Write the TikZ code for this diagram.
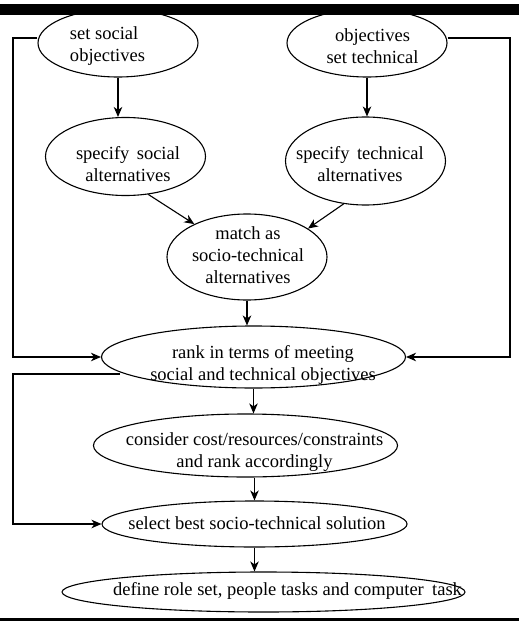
\documentclass[tikz,border=0pt]{standalone}
\usepackage{fontspec}
\setmainfont{Liberation Serif}
\usetikzlibrary{arrows.meta,shapes.geometric}
\begin{document}
\begin{tikzpicture}[x=1pt,y=-1pt,
  line width=1.1pt,
  oval/.style={draw,ellipse,inner sep=0pt,minimum width=2*#1},
  lbl/.style={inner sep=0pt,align=center,font=\fontsize{18.5}{22}\selectfont},
  arr/.style={-{Stealth[length=10pt,width=8.5pt,inset=3pt]}}]
\useasboundingbox (0,0) rectangle (519,628);
% process ellipses
\node[oval=80pt, minimum height=68pt] (e1) at (118,43) {};
\node[oval=80pt, minimum height=68pt] (e2) at (367,43) {};
\node[oval=80pt, minimum height=78pt] (e3) at (125.5,156.5) {};
\node[oval=80pt, minimum height=88pt] (e4) at (365.5,161) {};
\node[oval=80pt, minimum height=86pt] (e5) at (247,257) {};
\node[oval=152pt, minimum height=62pt] (e6) at (253.5,357) {};
\node[oval=152pt, minimum height=63pt] (e7) at (245.5,445.5) {};
\node[oval=152.5pt, minimum height=46pt] (e8) at (254.5,524) {};
\node[oval=201.5pt, minimum height=40pt] (e9) at (263.5,592) {};
% labels
\node[lbl,align=left] (t1) at (107.5,46) {set social\\objectives};
\node[lbl] (t2) at (372.5,46) {objectives\\set technical};
\node[lbl] (t3) at (128,164) {specify\hspace{0.15em} social\\alternatives};
\node[lbl] (t4) at (360,164) {specify\hspace{0.15em} technical\\alternatives};
\node[lbl] (t5) at (248,255) {match as\\socio-technical\\alternatives};
\node[lbl] (t6) at (263,365) {rank in terms of meeting\\social and technical objectives};
\node[lbl] (t7) at (254.5,452) {consider cost/resources/constraints\\and rank accordingly};
\node[lbl] (t8) at (257,523) {select best socio-technical solution};
\node[lbl] (t9) at (287.5,591) {define role set, people tasks and computer\hspace{0.2em} task};
% helper points for the feedback lines
\coordinate (lx) at (13,0);
\coordinate (rx) at (510,0);
\coordinate (r6) at (120,374);
% connectors
\draw[arr] (e1.south) -- (e1.south |- e3.north);
\draw[arr] (e2.south) -- (e2.south |- e4.north);
\draw[arr] (e3.-59) -- (e5.148);
\draw[arr] (e4.-117) -- (e5.25);
\draw[arr] (e5.south) -- (e5.south |- e6.north);
\draw[arr] (e6.south) -- (e6.south |- e7.north);
\draw[arr] (e7.south -| e8.north) -- (e8.north);
\draw[arr] (e8.south) -- (e8.south |- e9.north);
\draw[arr] ([yshift=5pt]e1.west) -| (lx |- e6.west) -- (e6.west);
\draw[arr] ([yshift=5pt]e2.east) -| (rx |- e6.east) -- (e6.east);
\draw[arr] (r6) -| (lx |- e8.west) -- (e8.west);
% rules at top and bottom
\fill (0,4) rectangle (519,15);
\fill (0,617.5) rectangle (519,620.5);
\end{tikzpicture}
\end{document}
